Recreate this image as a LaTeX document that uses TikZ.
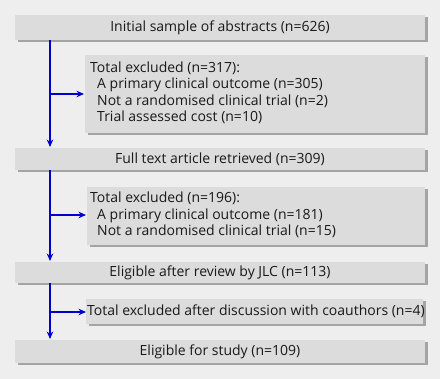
\documentclass[tikz,border=0pt]{standalone}
\usepackage{fontspec}
\setmainfont{Open Sans}
\usetikzlibrary{arrows.meta}
\definecolor{bg}{HTML}{EEEEEE}
\definecolor{boxfill}{HTML}{DCDCDC}
\definecolor{shadow}{HTML}{A4A4A4}
\definecolor{arrowblue}{HTML}{0000CC}
\tikzset{
  every node/.style={font=\fontsize{14}{16.4}\selectfont, text=black!90},
  flow/.style={draw=arrowblue, line width=1.6pt, -{Stealth[length=7.5pt,width=6.5pt]}},
}
\newcommand{\shadowbox}[5]{% name, x1, y1, x2, y2
  \fill[shadow] (#2+2.5,#3+2.5) rectangle (#4+2.5,#5+2.5);
  \fill[boxfill] (#2,#3) rectangle (#4,#5);
  \coordinate (#1-nw) at (#2,#3);
  \coordinate (#1-w) at (#2,{(#3+#5)/2});
}
\begin{document}
\begin{tikzpicture}[x=1pt,y=-1pt]
\fill[bg] (0,0) rectangle (440,379);
\useasboundingbox (0,0) rectangle (440,379);
% boxes
\shadowbox{b1}{15}{15}{425}{40}
\shadowbox{b2}{85}{55}{425}{133}
\shadowbox{b3}{15}{148}{425}{170}
\shadowbox{b4}{87}{187}{425}{245}
\shadowbox{b5}{15}{262}{425}{283}
\shadowbox{b6}{86}{299}{423}{324}
\shadowbox{b7}{15}{340}{425}{363}
% texts
\node (t1) at (220,27.5) {Initial sample of abstracts (n=626)};
\node[anchor=north west, align=left, inner sep=0pt] (t2) at (90,61.5) {Total excluded (n=317):\\\hspace{7pt}A primary clinical outcome (n=305)\\\hspace{7pt}Not a randomised clinical trial (n=2)\\\hspace{7pt}Trial assessed cost (n=10)};
\node (t3) at (220,159) {Full text article retrieved (n=309)};
\node[anchor=north west, align=left, inner sep=0pt] (t4) at (90,192) {Total excluded (n=196):\\\hspace{7pt}A primary clinical outcome (n=181)\\\hspace{7pt}Not a randomised clinical trial (n=15)};
\node (t5) at (220,272.5) {Eligible after review by JLC (n=113)};
\node[anchor=west, inner sep=0pt] (t6) at (87,311.5) {Total excluded after discussion with coauthors (n=4)};
\node (t7) at (220,351.5) {Eligible for study (n=109)};
% connectors
\coordinate (s1) at (50,40);
\coordinate (e1) at (50,147);
\coordinate (j1) at (50,94);
\coordinate (a1) at (84,94);
\draw[flow] (s1) -- (e1);
\draw[flow] (j1) -- (a1);
\coordinate (s2) at (50,170);
\coordinate (e2) at (50,261);
\coordinate (j2) at (50,215);
\coordinate (a2) at (86,215);
\draw[flow] (s2) -- (e2);
\draw[flow] (j2) -- (a2);
\coordinate (s3) at (50,283);
\coordinate (e3) at (50,339);
\coordinate (j3) at (50,312);
\coordinate (a3) at (86,312);
\draw[flow] (s3) -- (e3);
\draw[flow] (j3) -- (a3);
\end{tikzpicture}
\end{document}
